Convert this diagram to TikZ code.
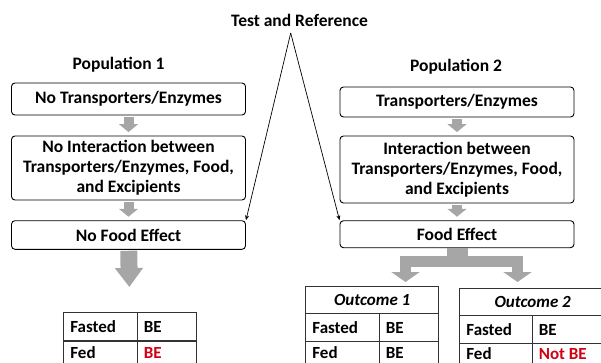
\documentclass[tikz,border=0pt]{standalone}
\usepackage{fontspec}
\setmainfont{Carlito}
\usepackage{colortbl}
\usetikzlibrary{arrows.meta, positioning, calc}
\definecolor{arrowgray}{RGB}{166,166,166}
\definecolor{notbe}{RGB}{210,0,20}
\setlength{\arrayrulewidth}{1.2pt}
\arrayrulecolor{black!80}
\newcommand{\rowstrut}{\rule[-7.5pt]{0pt}{27pt}}
\newcommand{\lastrowstrut}{\rule[-10.5pt]{0pt}{27pt}}
\newcommand{\hdstrut}{\rule[-7pt]{0pt}{25.5pt}}

\begin{document}
\begin{tikzpicture}[x=1pt, y=-1pt,
	box/.style={draw, line width=0.9pt, rounded corners=3.5pt, minimum width=234pt, align=center, inner sep=2pt, font=\fontsize{17.5}{20}\selectfont\bfseries},
	head/.style={font=\fontsize{17.5}{20}\selectfont\bfseries},
	tabl/.style={inner sep=0pt, anchor=north west, font=\fontsize{17}{20}\selectfont\bfseries},
	stub/.style={draw=arrowgray, line width=10pt, -{Triangle[length=8pt,width=19pt]}, shorten <=2pt, shorten >=3.5pt},
	bigarrow/.style={draw=arrowgray, line width=17pt, -{Triangle[length=19pt,width=27pt]}, shorten <=1pt, shorten >=25pt},
	forkstem/.style={draw=arrowgray, line width=21pt},
	forkleg/.style={draw=arrowgray, line width=11pt, -{Triangle[length=10pt,width=28pt]}},
	refline/.style={draw, line width=0.7pt, -{Stealth[length=5pt,width=4pt]}}]
	\useasboundingbox (0,0) rectangle (601,363);
	\clip (0,0) rectangle (601,363);

	% headings
	\draw (299.5,20.7) node[head] (tr) {Test and Reference}
		(118.6,65) node[head] (p1) {Population 1}
		(456,66.7) node[head] (p2) {Population 2};

	% population 1
	\draw (128.5,99) node[box, minimum height=32pt] (l1) {No Transporters/Enzymes}
		(128.5,168) node[box, minimum height=64pt] (l2) {No Interaction between\\Transporters/Enzymes, Food,\\and Excipients}
		(128.5,235) node[box, minimum height=28.6pt] (l3) {No Food Effect};

	% population 2
	\draw (457,102) node[box, minimum height=30pt] (r1) {Transporters/Enzymes}
		(457,169.5) node[box, minimum height=67pt] (r2) {Interaction between\\Transporters/Enzymes, Food,\\and Excipients}
		(457,234.2) node[box, minimum height=27pt] (r3) {Food Effect};

	% outcome tables
	\node[tabl] (tab1) at (63,312) {\begin{tabular}{|p{60.2pt}|p{46.2pt}|}\hline
		\rowstrut Fasted & BE\\\hline
		\lastrowstrut Fed & \textcolor{notbe}{BE}\\\hline
		\end{tabular}};
	\node[tabl] (tab2) at (305,286) {\begin{tabular}{|p{60.2pt}|p{46.2pt}|}\hline
		\multicolumn{2}{|c|}{\hdstrut\itshape Outcome 1}\\\hline
		\rowstrut Fasted & BE\\\hline
		\lastrowstrut Fed & BE\\\hline
		\end{tabular}};
	\node[tabl] (tab3) at (459,288) {\begin{tabular}{|p{59.2pt}|p{60.2pt}|}\hline
		\multicolumn{2}{|c|}{\hdstrut\itshape Outcome 2}\\\hline
		\rowstrut Fasted & BE\\\hline
		\rule[-12pt]{0pt}{27pt}Fed & \textcolor{notbe}{Not BE}\\\hline
		\end{tabular}};

	% block arrows
	\draw[stub] (l1) -- (l2);
	\draw[stub] (l2) -- (l3);
	\draw[stub] (r1) -- (r2);
	\draw[stub] (r2) -- (r3);
	\draw[bigarrow] (l3) -- (tab1);

	\coordinate (tipL) at (405.5,282);
	\coordinate (tipR) at (517.5,282);
	\draw[forkstem] (r3.south) -- ++(0,13.3) coordinate (fork);
	\draw[forkleg] (fork) -| (tipL);
	\draw[forkleg] (fork) -| (tipR);

	% test and reference
	\coordinate (apex) at (290.7,33);
	\draw[refline] (apex) -- (l3.north east);
	\draw[refline] (apex) -- (r3.north west);
\end{tikzpicture}
\end{document}
